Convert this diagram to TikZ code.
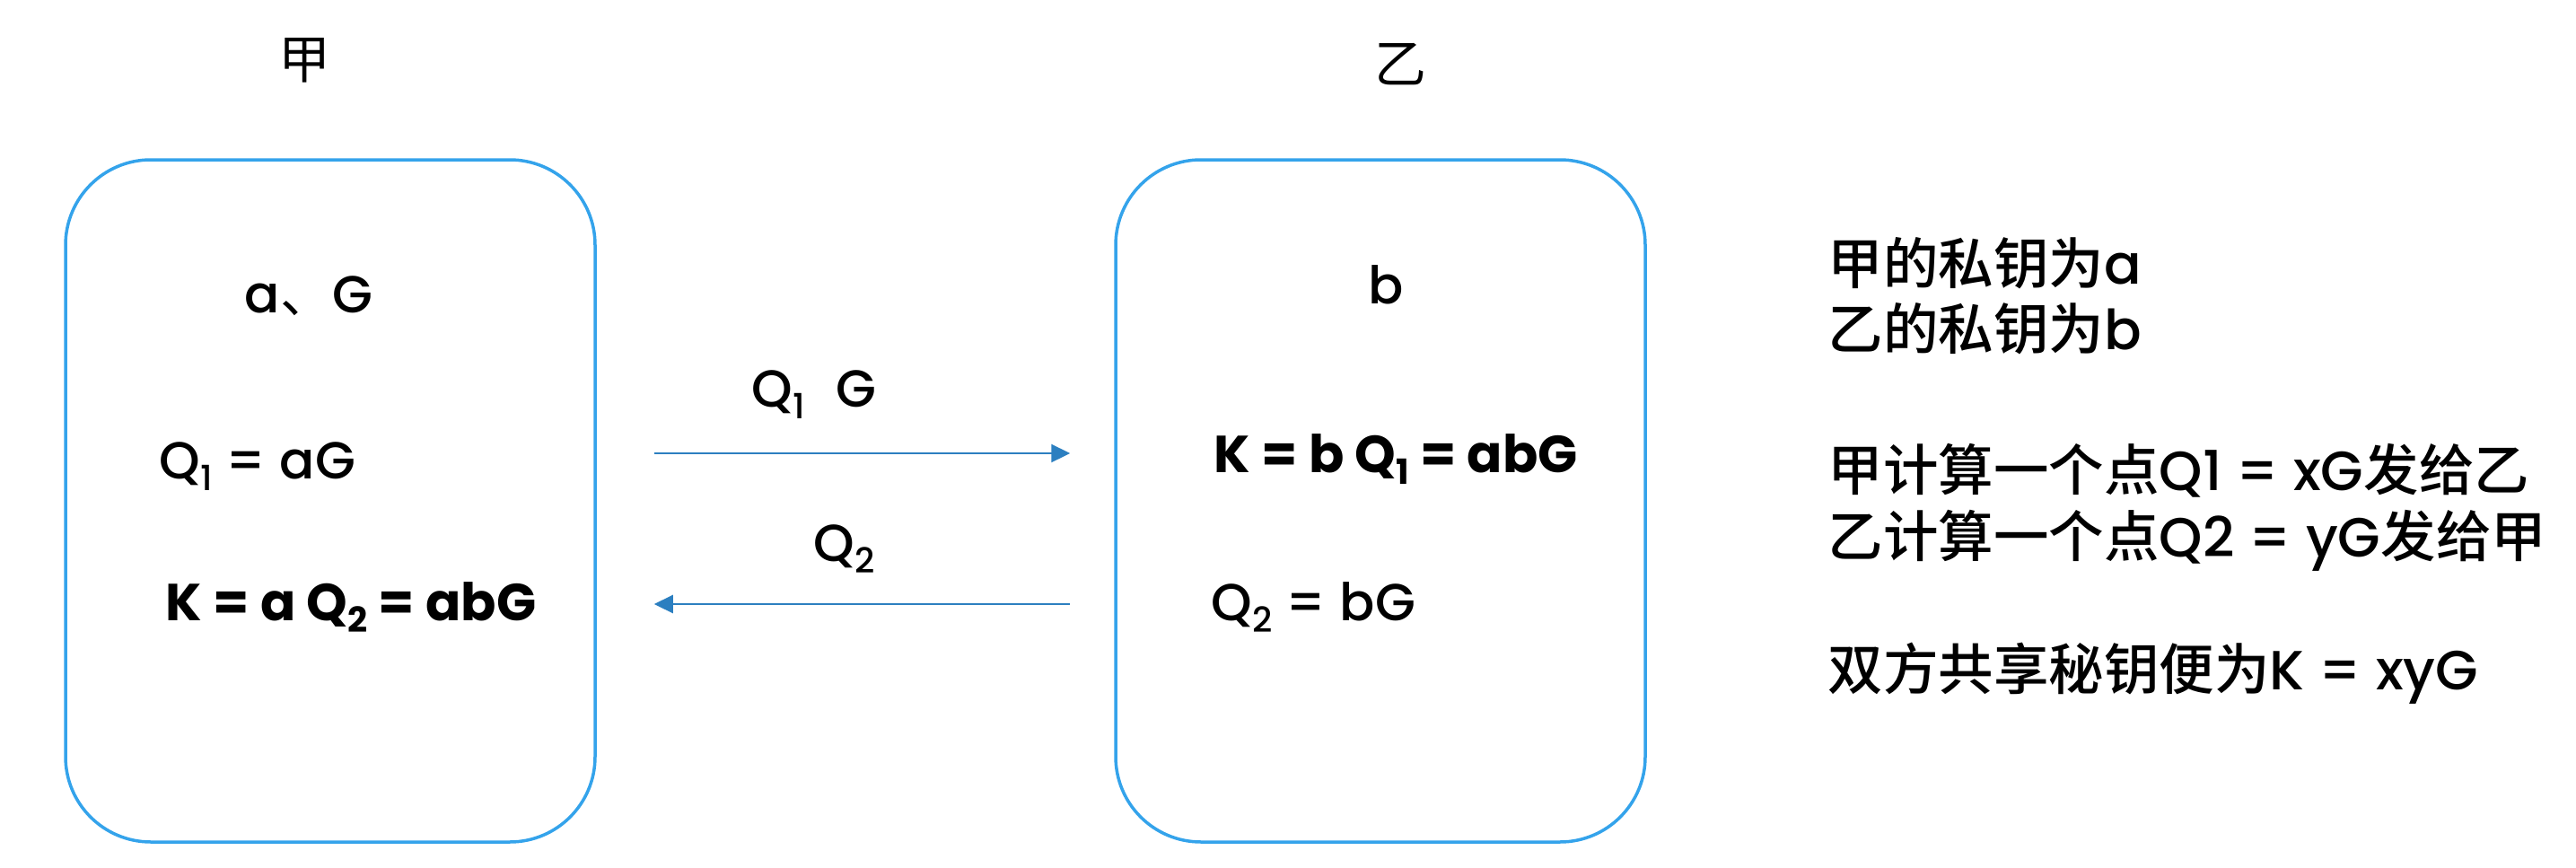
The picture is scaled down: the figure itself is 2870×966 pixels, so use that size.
\documentclass[tikz,border=0pt]{standalone}
\usepackage{fontspec}
\setmainfont{Poppins}[UprightFont=* Medium, BoldFont=* Bold]
\newfontfamily\cjk{Noto Sans CJK SC}
\newfontfamily\cjkm{Noto Sans CJK SC Medium}
\usetikzlibrary{arrows.meta}
\definecolor{boxblue}{RGB}{52,163,235}
\definecolor{msgblue}{RGB}{44,127,192}
\newcommand{\qsub}[1]{\raisebox{-0.24em}{\fontsize{11pt}{11pt}\selectfont #1}}

\begin{document}
\begin{tikzpicture}[x=0.1mm, y=-0.1mm,
    every node/.style={inner sep=0pt, font=\fontsize{16.5pt}{20pt}\selectfont},
    party/.style={draw=boxblue, line width=0.35mm, rounded corners=9.5mm, minimum width=59mm, minimum height=76mm},
    msg/.style={draw=msgblue, line width=0.22mm, -{Triangle[length=2.1mm, width=2mm]}},
    shared/.style={anchor=base west, font=\fontsize{16.5pt}{20pt}\selectfont\bfseries},
    note/.style={anchor=base west, font=\fontsize{17.5pt}{20pt}\selectfont}]
    \useasboundingbox (0,0) rectangle (2870,966);
    \node[party] (jiabox) at (368,558) {};
    \node[party] (yibox) at (1538,558) {};
    \node (jia) at (339,67) {\cjk 甲};
    \node (yi) at (1560,72) {\cjk 乙};
    \node[anchor=base] (seca) at (344,348) {a{\cjk 、}G};
    \node[anchor=base west] (qa) at (177,533) {Q\qsub{1} = aG};
    \node[shared] (ka) at (184,691) {K = a Q\qsub{2} = abG};
    \node[anchor=base] (secb) at (1544,338) {b};
    \node[shared] (kb) at (1352,526) {K = b Q\qsub{1} = abG};
    \node[anchor=base west] (qb) at (1349,691) {Q\qsub{2} = bG};
    \coordinate (up) at (0,505);
    \coordinate (down) at (0,673);
    \draw[msg, shorten <=6.4mm, shorten >=4.9mm] (jiabox.east |- up) -- (yibox.west |- up);
    \draw[msg, shorten <=4.9mm, shorten >=6.4mm] (yibox.west |- down) -- (jiabox.east |- down);
    \node[anchor=base west] (sendq1) at (837,453) {Q\qsub{1}\hspace{0.6em}G};
    \node[anchor=base west] (sendq2) at (906,625) {Q\qsub{2}};
    \node[note] (n1) at (2036,316) {{\cjkm 甲的私钥为}a};
    \node[note] (n2) at (2036,389) {{\cjkm 乙的私钥为}b};
    \node[note] (n3) at (2036,546) {{\cjkm 甲计算一个点}Q1 = xG{\cjkm 发给乙}};
    \node[note] (n4) at (2036,620) {{\cjkm 乙计算一个点}Q2 = yG{\cjkm 发给甲}};
    \node[note] (n5) at (2036,768) {{\cjkm 双方共享秘钥便为}K = xyG};
\end{tikzpicture}
\end{document}
